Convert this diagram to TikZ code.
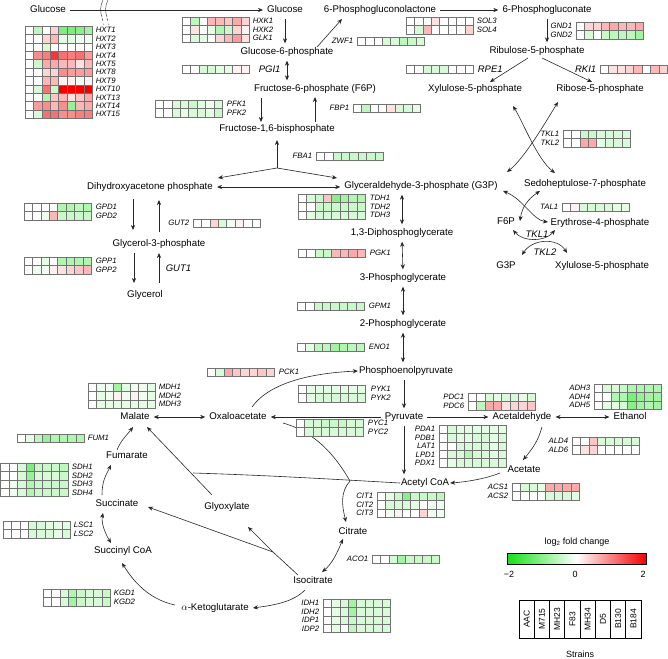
\documentclass[tikz,border=0pt]{standalone}
\usepackage{fontspec}
\setmainfont{Liberation Sans}
\usetikzlibrary{arrows.meta,calc}
\definecolor{lowc}{RGB}{20,225,20}
\definecolor{highc}{RGB}{245,0,0}
\tikzset{
  met/.style={font=\fontsize{9.7}{11}\selectfont, inner sep=1pt, text height=7pt, text depth=2pt},
  gene/.style={font=\fontsize{7.8}{9}\selectfont\itshape, inner sep=0.6pt},
  biggene/.style={font=\fontsize{9.5}{11}\selectfont\itshape, inner sep=0.6pt},
  arr/.style={draw=black!85, line width=0.6pt, -{Stealth[length=5pt,width=4.2pt]}},
  darr/.style={arr, {Stealth[length=5pt,width=4.2pt]}-{Stealth[length=5pt,width=4.2pt]}},
  link/.style={draw=black!85, line width=0.6pt},
  sh/.style={shorten >=3pt, shorten <=3pt},
}
\begin{document}
\begin{tikzpicture}[x=1pt, y=-1pt]
    \useasboundingbox (0,0) rectangle (668,658);

    % heat map: top left x, top y, rows of 8 values
    \def\heat#1#2#3{
        \foreach \row [count=\ri] in {#3} {
            \foreach \val [count=\ci] in \row {
                \pgfmathsetmacro{\pc}{min(100,abs(\val)*56)}
                \pgfmathtruncatemacro{\isneg}{\val<0}
                \ifnum\isneg=1 \colorlet{cellc}{lowc!\pc!white}\else\colorlet{cellc}{highc!\pc!white}\fi
                \filldraw[fill=cellc, draw=black!55, line width=0.35pt] ({#1+(\ci-1)*8.4},{#2+(\ri-1)*8.4}) rectangle +(8.4,8.4);
            }
        }
    }
    % gene names beside a heat map
    \def\genes#1#2#3#4{
        \foreach \gn [count=\ri] in {#4} {
            \node[gene, anchor=#3] (\gn) at (#1,{#2+(\ri-0.5)*8.4}) {\gn};
        }
    }

    % metabolites
    \node[met] (glcout) at (48,10) {Glucose};
    \node[met] (glc) at (285,10) {Glucose};
    \node[met] (pgl) at (380,10) {6-Phosphogluconolactone};
    \node[met] (pg) at (547,10) {6-Phosphogluconate};
    \node[met] (g6p) at (287,52) {Glucose-6-phosphate};
    \node[met] (ru5p) at (537,51) {Ribulose-5-phosphate};
    \node[met] (f6p) at (315,89) {Fructose-6-phosphate (F6P)};
    \node[met] (x5p) at (475,89) {Xylulose-5-phosphate};
    \node[met] (r5p) at (600,89) {Ribose-5-phosphate};
    \node[met] (f16bp) at (277,129) {Fructose-1,6-bisphosphate};
    \node[met] (dhap) at (150,187) {Dihydroxyacetone phosphate};
    \node[met] (gap) at (421,186) {Glyceraldehyde-3-phosphate (G3P)};
    \node[met] (s7p) at (585,184) {Sedoheptulose-7-phosphate};
    \node[met] (f6pb) at (506,222) {F6P};
    \node[met] (e4p) at (600,223) {Erythrose-4-phosphate};
    \node[met] (g3pb) at (506,266) {G3P};
    \node[met] (x5pb) at (602,266) {Xylulose-5-phosphate};
    \node[met] (g3pl) at (159,244) {Glycerol-3-phosphate};
    \node[met] (glyc) at (145,295) {Glycerol};
    \node[met] (bpg) at (402,233) {1,3-Diphosphoglycerate};
    \node[met] (pg3) at (403,278) {3-Phosphoglycerate};
    \node[met] (pg2) at (403,324) {2-Phosphoglycerate};
    \node[met] (pep) at (406,371) {Phosphoenolpyruvate};
    \node[met] (pyr) at (404,417) {Pyruvate};
    \node[met] (oaa) at (238,417) {Oxaloacetate};
    \node[met] (mal) at (135,417) {Malate};
    \node[met] (acald) at (522,417) {Acetaldehyde};
    \node[met] (etoh) at (630,417) {Ethanol};
    \node[met] (ac) at (524,470) {Acetate};
    \node[met] (accoa) at (425,483) {Acetyl CoA};
    \node[met] (fum) at (127,456) {Fumarate};
    \node[met] (suc) at (117,504) {Succinate};
    \node[met] (glx) at (227,507) {Glyoxylate};
    \node[met] (cit) at (353,532) {Citrate};
    \node[met] (succoa) at (123,551) {Succinyl CoA};
    \node[met] (icit) at (313,581) {Isocitrate};
    \node[met] (akg) at (215,608) {$\alpha$-Ketoglutarate};

    % membrane
    \draw[black!70, line width=0.5pt] (103,0) .. controls (100,6) and (100,12) .. (102,17);
    \draw[black!70, line width=0.5pt] (108,0) .. controls (105,6) and (105,12) .. (107,17);
    \draw[black!70, line width=0.5pt, dashed] (102,18) -- (104,25);
    \draw[black!70, line width=0.5pt, dashed] (107,18) -- (109,25);

    % glycolysis
    \draw[arr, sh] (glcout) -- (glc);
    \draw[arr, sh] (glc.south) -- (glc.south |- g6p.north);
    \draw[darr, sh] (g6p.south) -- (g6p.south |- f6p.north);
    \draw[arr] ($(f6p)+(-54,9)$) -- ($(f16bp)+(-16,-7)$);
    \draw[arr] ($(f16bp)+(38,-7)$) -- ($(f6p)+(0,8)$);
    \coordinate (fba) at (277,168);
    \draw[arr] (fba) -- ($(f16bp)+(0,11)$);
    \draw[arr] (fba) -- ($(dhap)+(68,-9)$);
    \draw[arr] (fba) -- ($(gap)+(-84,-8)$);
    \draw[darr, sh] (dhap.east) -- (dhap.east -| gap.west);
    \draw[darr, sh] (gap.south -| bpg.north) -- (bpg.north);
    \draw[darr, sh] (bpg.south) -- (pg3.north);
    \draw[darr, sh] (pg3.south) -- (pg2.north);
    \draw[darr, sh] (pg2.south) -- (pg2.south |- pep.north);
    \draw[arr, sh] (pep.south -| pyr.north) -- (pyr.north);

    % pentose phosphate
    \draw[arr] ($(g6p)+(30,-5)$) -- ($(pgl)+(-38,9)$);
    \draw[arr, sh] (pgl) -- (pg);
    \draw[arr, sh] (pg.south) -- (pg.south |- ru5p.north);
    \draw[arr] ($(ru5p)+(-9,7)$) -- ($(x5p)+(15,-7)$);
    \draw[arr] ($(ru5p)+(5,7)$) -- ($(r5p)+(-8,-7)$);
    \draw[darr] ($(x5p)+(38,17)$) .. controls +(10,16) and +(-18,-14) .. ($(s7p)+(-30,-11)$);
    \draw[darr] ($(r5p)+(-42,13)$) .. controls +(-10,16) and +(18,-14) .. ($(gap)+(86,-14)$);
    \draw[darr] ($(gap)+(82,5)$) .. controls +(20,8) and +(-15,-2) .. ($(e4p)+(-52,-1)$);
    \draw[darr] ($(s7p)+(-45,7)$) .. controls +(-12,8) and +(2,-14) .. ($(f6pb)+(14,-1)$);
    \draw[darr] ($(f6pb)+(7,8)$) .. controls +(10,12) and +(-10,12) .. ($(e4p)+(-45,7)$);
    \draw[darr] ($(g3pb)+(16,-11)$) .. controls +(10,-16) and +(-10,-16) .. ($(x5pb)+(-35,-13)$);

    % glycerol
    \draw[arr] ($(dhap)+(-17,12)$) -- ($(g3pl)+(-26,-14)$);
    \draw[arr] ($(g3pl)+(0,-12)$) -- ($(dhap)+(9,13)$);
    \draw[arr] ($(g3pl)+(-25,9)$) -- ($(glyc)+(-11,-12)$);
    \draw[arr] ($(glyc)+(14,-12)$) -- ($(g3pl)+(0,9)$);

    % pyruvate branch point
    \draw[arr] ($(oaa)+(14,-10)$) .. controls +(18,-25) and +(-45,2) .. (pep.west);
    \draw[arr, sh] (pyr) -- (oaa);
    \draw[darr, sh] (oaa) -- (mal);
    \draw[arr, sh] (pyr) -- (acald);
    \draw[darr, sh] (acald) -- (etoh);
    \draw[arr] ($(acald)+(20,10)$) .. controls +(-4,14) and +(10,-12) .. ($(ac)+(-1,-10)$);
    \draw[arr] ($(ac)+(-24,3)$) .. controls +(-15,6) and +(15,-1) .. (accoa.east);
    \draw[arr, sh] (pyr.south) -- (pyr.south |- accoa.north);

    % TCA and glyoxylate cycle
    \coordinate (gj) at (193,473);
    \coordinate (cs) at (350,481);
    \coordinate (ij) at (273,552);
    \draw[link] (accoa.west) .. controls (330,479) and (260,475) .. (gj);
    \draw[arr] ($(glx)+(-15,-12)$) -- ($(mal)+(12,10)$);
    \draw[link] ($(oaa)+(45,6)$) .. controls (315,432) and (335,455) .. (cs);
    \draw[arr] (cs) .. controls (340,492) and (342,506) .. ($(cit)+(-7,-10)$);
    \draw[link] ($(icit)+(-15,-6)$) -- (ij);
    \draw[arr] (ij) -- ($(glx)+(21,20)$);
    \draw[arr] (ij) -- ($(suc)+(31,3)$);
    \draw[darr] ($(cit)+(-10,7)$) .. controls +(-6,14) and +(10,-8) .. ($(icit)+(9,-9)$);
    \draw[arr] ($(icit)+(-8,9)$) .. controls +(-12,12) and +(22,-3) .. ($(akg)+(38,0)$);
    \draw[arr] ($(akg)+(-40,-3)$) .. controls +(-28,-6) and +(10,16) .. ($(succoa)+(-1,12)$);
    \draw[darr] ($(succoa)+(-12,-8)$) .. controls +(-6,-10) and +(-2,10) .. ($(suc)+(-14,9)$);
    \draw[arr] ($(suc)+(-15,-9)$) .. controls +(0,-14) and +(-5,10) .. ($(fum)+(-16,9)$);
    \draw[arr] ($(fum)+(-10,-6)$) .. controls +(4,-10) and +(-6,8) .. ($(mal)+(-2,10)$);

    % heat maps
    \heat{25}{26}{{0,-0.5,0,0.3,-1,-1,-0.9,-0.7},{0,0,0.3,0.5,-0.2,-0.2,-0.1,-0.1},{0,0,-0.3,0,0,0,0,0},{0,0.8,0.9,1.4,1,0.9,1,0.7},{0,-0.4,0.6,0.6,0.5,0.5,0.2,0.5},{0,0,0.3,0.3,0.8,0.7,0.7,0.7},{0,0,0.5,0.5,0.1,0.1,-0.1,0.1},{0,-0.3,1,-0.4,2,2,2,2},{0,0,-0.6,0.4,0.5,0.2,0.4,0.6},{0,0.7,0.8,0.5,0.8,-0.8,0.5,0.6},{0,-0.3,1,1,0.8,0.8,0.9,0.9}}
    \genes{95}{26}{west}{HXT1,HXT2,HXT3,HXT4,HXT5,HXT8,HXT9,HXT10,HXT13,HXT14,HXT15}
    \heat{182}{17}{{0,-0.5,0,0.5,0.5,0.4,0.6,0.3},{0,0.2,0,-0.2,-0.6,-0.4,0.3,0.1},{0,-0.3,-0.2,0,0.3,0.5,0.7,0.2}}
    \genes{252}{17}{west}{HXK1,HXK2,GLK1}
    \heat{357}{37}{{0,0,0,-0.3,-0.3,-0.5,-0.4,-0.3}}
    \genes{354}{37}{east}{ZWF1}
    \heat{182}{65}{{0,0,-0.3,-0.3,-0.2,-0.2,0.1,0.1}}
    \node[biggene, anchor=west] (PGI1) at (258,69) {PGI1};
    \heat{406}{17}{{0,0,0,0.2,0,0,0,0},{0,-0.3,0.5,0,0,0,0,0.3}}
    \genes{476}{17}{west}{SOL3,SOL4}
    \heat{576}{22}{{0,0.3,0.3,0.5,0.6,0.5,0.5,0.6},{0,-0.3,0,-0.4,-0.5,-0.5,-0.5,-0.7}}
    \genes{573}{22}{east}{GND1,GND2}
    \heat{406}{65}{{0,0,-0.3,-0.3,-0.3,0,0,0}}
    \node[biggene, anchor=west] (RPE1) at (477,69) {RPE1};
    \heat{600}{65}{{0,0.2,0.2,0.3,0.5,0,0.5,0.3}}
    \node[biggene, anchor=east] (RKI1) at (597,69) {RKI1};
    \heat{155}{100}{{0,0,-0.3,-0.3,-0.4,-0.2,-0.1,-0.3},{0,0,-0.3,-0.2,-0.3,-0.3,-0.2,-0.4}}
    \genes{226}{100}{west}{PFK1,PFK2}
    \heat{353}{104}{{0,-0.5,0,0,0.2,-0.3,-0.3,-0.2}}
    \genes{350}{104}{east}{FBP1}
    \heat{316}{152}{{0,0,-0.4,-0.4,-0.4,-0.4,-0.4,-0.4}}
    \genes{313}{152}{east}{FBA1}
    \heat{563}{130}{{0,0,-0.4,-0.4,-0.3,-0.3,-0.3,-0.3},{0,0,0.6,0.6,-0.2,-0.3,-0.3,-0.3}}
    \genes{560}{130}{east}{TKL1,TKL2}
    \heat{562}{203}{{0,0.1,-0.3,-0.3,-0.3,-0.3,-0.2,-0.2}}
    \genes{559}{203}{east}{TAL1}
    \node[biggene] (tkla) at (537,234) {TKL1};
    \node[biggene] (tklb) at (545,252) {TKL2};
    \heat{24}{203}{{0,0,0,0,-0.6,-0.6,-0.5,-0.6},{0,0,-0.1,0.5,-0.4,-0.4,-0.4,-0.4}}
    \genes{95}{203}{west}{GPD1,GPD2}
    \heat{193}{219}{{0,0,0.3,-0.3,-0.1,0.1,0,0}}
    \genes{190}{219}{east}{GUT2}
    \heat{24}{257}{{0,0,-0.2,0,-0.6,-0.6,-0.6,-0.6},{0,-0.1,-0.1,0.1,0.2,0.3,0.4,0.5}}
    \genes{95}{257}{west}{GPP1,GPP2}
    \node[biggene, anchor=west] (GUT1) at (165,268) {GUT1};
    \heat{298}{194}{{0,-0.3,-0.4,0.4,-0.9,-0.7,-0.6,-0.6},{0,0,-0.4,-0.4,-0.4,-0.4,-0.4,-0.4},{0,-0.2,-0.3,-0.3,-0.3,-0.3,-0.3,-0.3}}
    \genes{369}{194}{west}{TDH1,TDH2,TDH3}
    \heat{298}{249}{{0,0,-0.4,-0.4,0.5,0.5,0.6,0.5}}
    \genes{369}{249}{west}{PGK1}
    \heat{297}{302}{{0,0,-0.4,-0.4,-0.4,-0.4,-0.4,-0.4}}
    \genes{368}{302}{west}{GPM1}
    \heat{297}{343}{{0,-0.2,-0.5,-0.5,-0.7,-0.6,-0.5,-0.5}}
    \genes{368}{343}{west}{ENO1}
    \heat{207}{368}{{0,-0.3,0.6,0.4,0.3,0.3,0.4,0.3}}
    \genes{278}{368}{west}{PCK1}
    \heat{298}{385}{{0,-0.2,-0.2,-0.2,-0.2,-0.2,-0.2,-0.2},{0,-0.2,-0.3,-0.3,-0.3,-0.3,-0.3,-0.3}}
    \genes{370}{385}{west}{PYK1,PYK2}
    \heat{296}{419}{{0,-0.3,-0.3,-0.4,-0.4,-0.4,-0.3,-0.3},{0,-0.3,-0.3,-0.3,-0.3,-0.3,-0.3,-0.3}}
    \genes{367}{419}{west}{PYC1,PYC2}
    \heat{468}{393}{{0,0,-0.3,-0.2,-0.3,-0.3,-0.2,-0.3},{0,-0.5,0.6,0.6,0.2,0.3,0.3,0.4}}
    \genes{465}{393}{east}{PDC1,PDC6}
    \heat{439}{425}{{0,-0.3,-0.2,-0.2,-0.2,-0.2,-0.2,-0.2},{0,-0.3,-0.2,-0.2,-0.3,-0.3,-0.2,-0.3},{0,0,-0.3,-0.3,-0.3,-0.3,-0.2,-0.3},{0,-0.3,-0.3,-0.6,-0.3,-0.3,-0.2,-0.3},{0,-0.2,-0.3,-0.3,-0.3,-0.3,-0.3,-0.3}}
    \genes{436}{425}{east}{PDA1,PDB1,LAT1,LPD1,PDX1}
    \heat{594}{384}{{0,-0.3,-0.3,-0.4,-0.6,-0.6,-0.6,-0.6},{0,0,-0.6,-0.6,-1,-0.8,-0.7,-0.7},{0,-0.2,-0.2,-0.3,-0.9,-0.7,-0.6,-0.7}}
    \genes{591}{384}{east}{ADH3,ADH4,ADH5}
    \heat{572}{437}{{0,0,0.4,-0.3,-0.3,-0.3,-0.3,-0.3},{0,0.2,0.3,0,0,0,0,0}}
    \genes{569}{437}{east}{ALD4,ALD6}
    \heat{512}{483}{{0,-0.3,-0.3,-0.2,0.6,0.6,0.6,0.6},{0,0,0,0,-0.3,-0.3,-0.3,-0.2}}
    \genes{509}{483}{east}{ACS1,ACS2}
    \heat{88}{383}{{0,-0.1,-0.1,-0.7,-0.2,-0.1,-0.1,-0.2},{0,-0.2,-0.1,0.1,-0.1,0.1,-0.1,-0.2},{0,-0.2,-0.2,-0.2,-0.2,-0.2,-0.2,-0.2}}
    \genes{158}{383}{west}{MDH1,MDH2,MDH3}
    \heat{17}{434}{{0,-0.2,-0.5,-0.8,-0.6,-0.6,-0.6,-0.6}}
    \genes{87}{434}{west}{FUM1}
    \heat{0.5}{463}{{0,0,-0.3,-1,-0.4,-0.4,-0.4,-0.5},{0,0,-0.3,-0.8,-0.3,-0.3,-0.3,-0.4},{0,-0.1,-0.3,-0.6,-0.4,-0.4,-0.4,-0.4},{0,-0.1,-0.3,-0.6,-0.4,-0.4,-0.4,-0.4}}
    \genes{71}{463}{west}{SDH1,SDH2,SDH3,SDH4}
    \heat{3}{521}{{0,0,0,-0.3,-0.3,-0.2,-0.2,-0.2},{0,0,0,-0.3,-0.3,-0.3,-0.2,-0.3}}
    \genes{73}{521}{west}{LSC1,LSC2}
    \heat{43}{589}{{0,0,-0.3,-0.6,-0.4,-0.3,-0.3,-0.4},{0,0,-0.3,-0.7,-0.4,-0.3,-0.3,-0.4}}
    \genes{113}{589}{west}{KGD1,KGD2}
    \heat{377}{492}{{0,-0.2,-0.4,-0.9,-0.4,-0.4,-0.4,-0.5},{0,-0.3,-0.3,-0.3,-0.2,0,-0.1,-0.1},{0,-0.1,0.1,0,0,0.3,-0.1,-0.1}}
    \genes{374}{492}{east}{CIT1,CIT2,CIT3}
    \heat{372}{555}{{0,0,-0.3,-0.7,-0.4,-0.4,-0.4,-0.4}}
    \genes{369}{555}{east}{ACO1}
    \heat{323}{599}{{0,-0.2,-0.3,-0.7,-0.3,-0.3,-0.3,-0.3},{0,-0.2,-0.3,-0.7,-0.3,-0.3,-0.3,-0.3},{0,-0.2,-0.3,-0.4,-0.3,-0.3,-0.3,-0.3},{0,-0.2,0,-0.5,-0.3,-0.3,-0.3,-0.3}}
    \genes{320}{599}{east}{IDH1,IDH2,IDP1,IDP2}

    % legend
    \node[font=\fontsize{9}{10}\selectfont] (lgtitle) at (577,542) {log\textsubscript{2} fold change};
    \shade[left color=lowc, right color=highc, middle color=white] (507,553) rectangle (646,564);
    \draw[line width=0.6pt] (507,553) rectangle (646,564);
    \node[font=\fontsize{9}{10}\selectfont] (lmin) at (509,574) {−2};
    \node[font=\fontsize{9}{10}\selectfont] (lmid) at (575,574) {0};
    \node[font=\fontsize{9}{10}\selectfont] (lmax) at (643,574) {2};
    \foreach \s [count=\i] in {AAC,M715,MH23,F83,MH34,D5,B130,B184} {
        \draw[line width=0.6pt] ({519+(\i-1)*15.25},600) rectangle +(15.25,38);
        \node[rotate=90, font=\fontsize{8.5}{10}\selectfont] (st\i) at ({519+(\i-0.5)*15.25},619) {\s};
    }
    \node[font=\fontsize{9}{10}\selectfont] (strains) at (580,654) {Strains};
\end{tikzpicture}
\end{document}
